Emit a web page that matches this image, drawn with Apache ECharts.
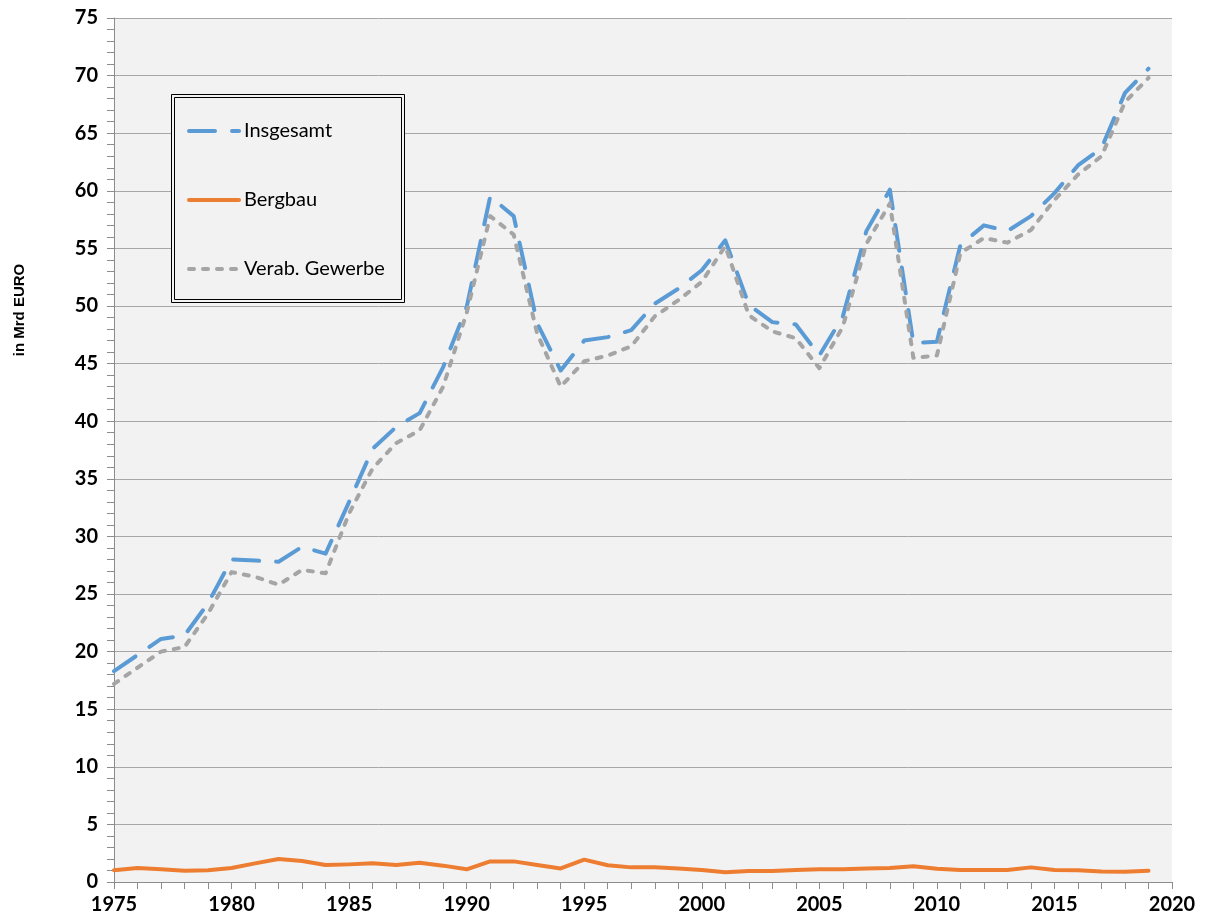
<!DOCTYPE html>
<html>
<head>
<meta charset="utf-8">
<script src="https://cdn.jsdelivr.net/npm/echarts@6/dist/echarts.min.js"></script>
<style>
html,body{margin:0;padding:0;background:#fff;}
#chart{width:1205px;height:924px;}
</style>
</head>
<body>
<div id="chart"></div>
<script>
var years=[1975,1976,1977,1978,1979,1980,1981,1982,1983,1984,
	1985,1986,1987,1988,1989,1990,1991,1992,1993,1994,
	1995,1996,1997,1998,1999,2000,2001,2002,2003,2004,
	2005,2006,2007,2008,2009,2010,2011,2012,2013,2014,
	2015,2016,2017,2018,2019];
var insgesamt=[18.3,19.7,21.1,21.4,24.2,28.0,27.9,27.8,29.1,28.5,
	33.0,37.6,39.5,40.7,44.7,49.9,59.5,57.8,48.5,44.4,
	47.0,47.3,47.9,50.2,51.5,53.1,55.7,50.1,48.6,48.4,
	45.7,49.1,56.5,60.1,46.8,46.9,55.3,57.0,56.5,57.8,
	59.8,62.2,63.7,68.5,70.6];
var bergbau=[1.01,1.21,1.10,0.98,1.01,1.21,1.62,1.99,1.82,1.47,
	1.53,1.62,1.47,1.68,1.42,1.10,1.79,1.79,1.47,1.18,
	1.94,1.45,1.27,1.27,1.18,1.04,0.84,0.95,0.95,1.04,
	1.10,1.10,1.18,1.21,1.36,1.16,1.04,1.04,1.04,1.27,
	1.04,1.01,0.92,0.90,0.98];
var gewerbe=[17.2,18.6,20.0,20.4,23.3,26.9,26.5,25.8,27.1,26.8,
	32.0,35.9,38.1,39.2,43.0,49.4,57.8,56.2,47.6,43.0,
	45.2,45.7,46.5,49.1,50.5,52.1,55.2,49.2,47.8,47.2,
	44.6,48.2,55.4,58.9,45.5,45.7,54.6,55.9,55.5,56.6,
	59.2,61.4,63.0,67.7,69.8];
var names=['Insgesamt','Bergbau','Verab. Gewerbe'];

function pairs(arr){
	var out=[];
	for(var i=0;i<years.length;i++){
		out.push([years[i],arr[i]]);
	}
	return out;
}

var chart=echarts.init(document.getElementById('chart'));
var axisGrey='#8c8c8c';
var option={
	animation:false,
	textStyle:{fontFamily:'Lato'},
	grid:{
		left:114,right:33,top:18,bottom:42,
		show:true,backgroundColor:'#f2f2f2',borderWidth:0
	},
	legend:{
		orient:'vertical',
		left:187,top:121,
		padding:0,
		itemWidth:50,itemHeight:14,itemGap:49,
		itemStyle:{opacity:0},
		lineStyle:{width:4,cap:'round'},
		data:names,
		textStyle:{fontSize:20,color:'#000',fontFamily:'Lato'}
	},
	graphic:[
		{type:'rect',z:3,shape:{x:171.5,y:94.5,width:233,height:208},
			style:{fill:'#f2f2f2',stroke:'#000',lineWidth:1}},
		{type:'rect',z:3,shape:{x:174.5,y:97.5,width:227,height:202},
			style:{fill:'none',stroke:'#000',lineWidth:1}},
		{type:'text',x:20,y:310,rotation:Math.PI/2,
			style:{text:'in Mrd EURO',fontSize:15,fontWeight:'bold',fontFamily:'Liberation Sans',fill:'#000',
				align:'center',verticalAlign:'middle'}}
	],
	xAxis:{
		type:'value',min:1975,max:2020,interval:5,
		axisLine:{show:true,lineStyle:{color:axisGrey,width:1}},
		axisTick:{show:true,length:7,lineStyle:{color:axisGrey}},
		minorTick:{show:true,splitNumber:5,length:7,lineStyle:{color:axisGrey}},
		splitLine:{show:false},
		axisLabel:{fontSize:20,fontWeight:'bold',color:'#000',margin:13,fontFamily:'Lato',
			formatter:function(v){return String(v);}}
	},
	yAxis:{
		type:'value',min:0,max:75,interval:5,
		axisLine:{show:true,lineStyle:{color:axisGrey,width:1}},
		axisTick:{show:true,length:7,lineStyle:{color:axisGrey}},
		minorTick:{show:true,splitNumber:5,length:7,lineStyle:{color:axisGrey}},
		splitLine:{show:true,lineStyle:{color:'#a6a6a6',width:1}},
		axisLabel:{fontSize:20,fontWeight:'bold',color:'#000',margin:16,fontFamily:'Lato'}
	},
	series:[
		{
			name:names[0],type:'line',symbol:'none',
			data:pairs(insgesamt),
			color:'#5b9bd5',
			lineStyle:{color:'#5b9bd5',width:4,type:[26,17],cap:'round',join:'round'}
		},
		{
			name:names[1],type:'line',symbol:'none',
			data:pairs(bergbau),
			color:'#ed7d31',
			lineStyle:{color:'#ed7d31',width:4,cap:'round',join:'round'}
		},
		{
			name:names[2],type:'line',symbol:'none',
			data:pairs(gewerbe),
			color:'#a5a5a5',
			lineStyle:{color:'#a5a5a5',width:4,type:[5,9],cap:'round',join:'round'}
		}
	]
};
chart.setOption(option);
</script>
</body>
</html>
